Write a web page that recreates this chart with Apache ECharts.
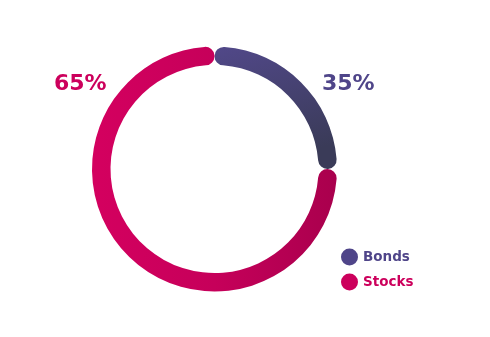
<!DOCTYPE html>
<html>
<head>
<meta charset="utf-8">
<script src="https://cdn.jsdelivr.net/npm/echarts@6/dist/echarts.min.js"></script>
<style>html,body{margin:0;padding:0;background:#fff}#c{width:490px;height:337px}</style>
</head>
<body>
<div id="c"></div>
<script>
// Data
var categories = ["Bonds", "Stocks"];
var labelValues = [35, 65];          // printed percentages
var arcShares = [25, 75];            // arc extents as drawn in the picture
var baseColors = ["#4f4589", "#cc005c"];

var chart = echarts.init(document.getElementById('c'), null, {renderer: 'canvas'});
var FONT = '"DejaVu Sans", sans-serif';

var gradients = [
  new echarts.graphic.LinearGradient(0, 0, 0.3, 1, [
    {offset: 0, color: '#514889'}, {offset: 1, color: '#3a3b58'}
  ]),
  new echarts.graphic.LinearGradient(0, 0, 1, 0, [
    {offset: 0, color: '#d4005f'}, {offset: 0.5, color: '#c6005a'}, {offset: 1, color: '#a9004d'}
  ])
];

var option = {
  animation: false,
  backgroundColor: '#ffffff',
  legend: {
    orient: 'vertical',
    left: 341,
    top: 248.5,
    padding: 0,
    itemWidth: 17,
    itemHeight: 17,
    itemGap: 8,
    icon: 'circle',
    textStyle: {fontFamily: FONT, fontWeight: 'bold', fontSize: 13.5},
    data: categories.map(function (n, i) {
      return {name: n, itemStyle: {color: baseColors[i]}, textStyle: {color: baseColors[i]}};
    })
  },
  series: [{
    type: 'pie',
    center: [214.5, 169],
    radius: [104, 122.5],
    startAngle: 90,
    clockwise: true,
    padAngle: 0,
    itemStyle: {borderRadius: 9.5, borderWidth: 0},
    label: {show: false},
    labelLine: {show: false},
    emphasis: {disabled: true},
    data: categories.map(function (n, i) {
      return {name: n, value: arcShares[i], itemStyle: {color: gradients[i]}};
    })
  }],
  graphic: [
    {type: 'text', left: 54, top: 73, style: {text: labelValues[1] + '%', fill: baseColors[1], font: 'bold 22px ' + FONT}},
    {type: 'text', left: 322, top: 73, style: {text: labelValues[0] + '%', fill: baseColors[0], font: 'bold 22px ' + FONT}}
  ]
};
chart.setOption(option);
</script>
</body>
</html>
